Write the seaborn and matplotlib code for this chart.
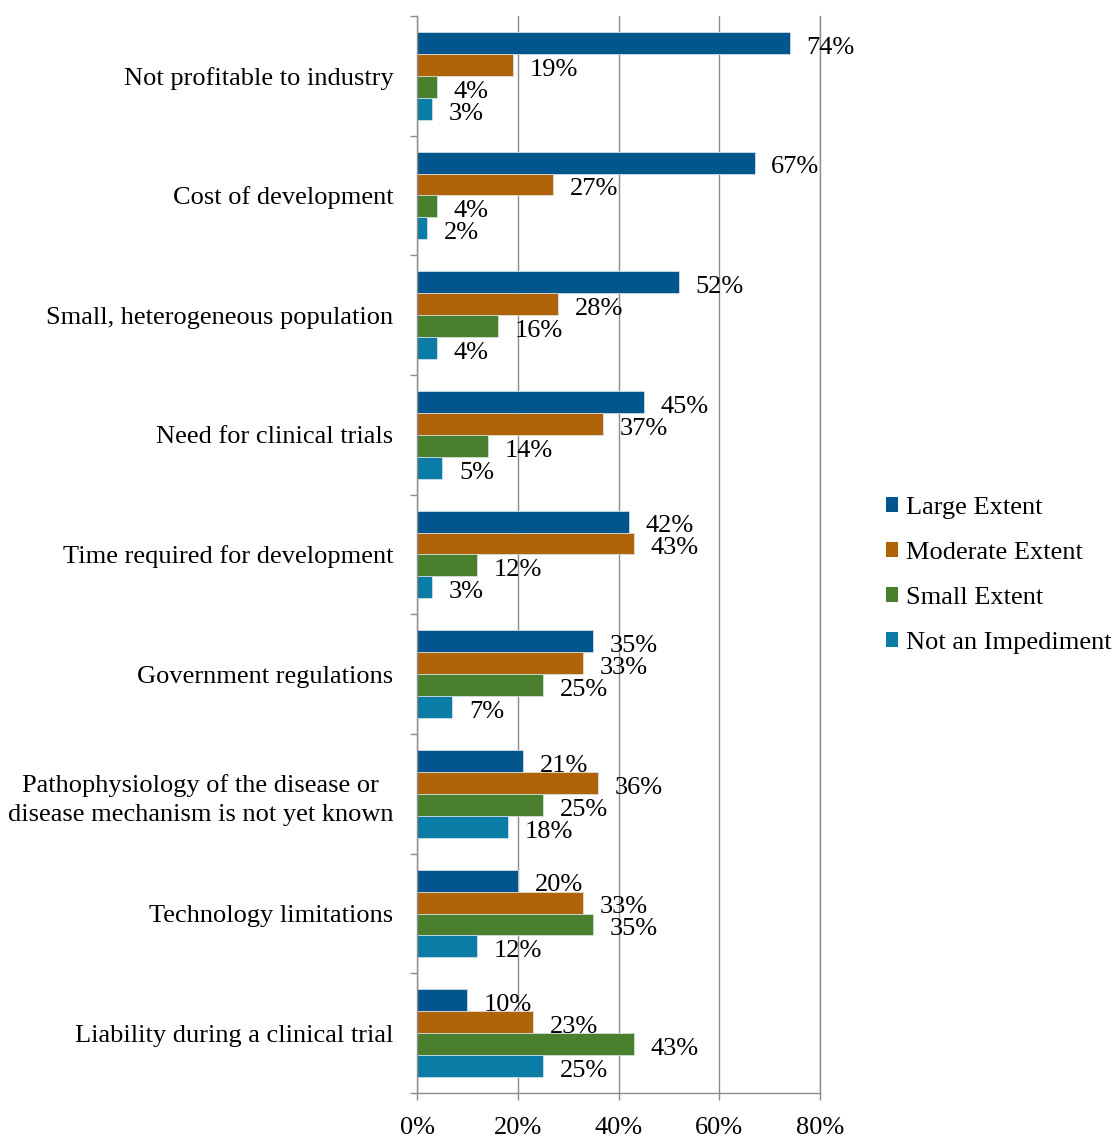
import matplotlib
matplotlib.use("Agg")
import matplotlib.pyplot as plt
from matplotlib.patches import Patch
from matplotlib.ticker import FuncFormatter, FixedLocator
import seaborn as sns
import pandas as pd

categories = [
    "Not profitable to industry",
    "Cost of development",
    "Small, heterogeneous population",
    "Need for clinical trials",
    "Time required for development",
    "Government regulations",
    "Pathophysiology of the disease or\ndisease mechanism is not yet known",
    "Technology limitations",
    "Liability during a clinical trial",
]
series = ["Large Extent", "Moderate Extent", "Small Extent", "Not an Impediment"]
large_extent = [74, 67, 52, 45, 42, 35, 21, 20, 10]
moderate_extent = [19, 27, 28, 37, 43, 33, 36, 33, 23]
small_extent = [4, 4, 16, 14, 12, 25, 25, 35, 43]
not_an_impediment = [3, 2, 4, 5, 3, 7, 18, 12, 25]
colors = ["#03558D", "#B0640A", "#4A7F2D", "#0A7CA5"]
x_ticks = [0, 20, 40, 60, 80]

values = [large_extent, moderate_extent, small_extent, not_an_impediment]
rows = []
for s, vals in zip(series, values):
    for c, v in zip(categories, vals):
        rows.append({"Impediment": c, "Extent": s, "Percent": v})
df = pd.DataFrame(rows)

sns.set_theme(style="white")
plt.rcParams["font.family"] = ["Liberation Serif", "DejaVu Serif"]
plt.rcParams["font.size"] = 19
plt.rcParams["text.color"] = "black"
plt.rcParams["xtick.color"] = "black"
plt.rcParams["ytick.color"] = "black"

grid_gray = "#8C8C8C"

fig = plt.figure(figsize=(11.16, 11.38), dpi=100)
ax = fig.add_axes([0.3737, 0.0395, 0.3611, 0.9465])

sns.barplot(
    data=df, y="Impediment", x="Percent", hue="Extent",
    order=categories, hue_order=series, palette=colors, saturation=1,
    orient="h", width=0.733, dodge=True, errorbar=None,
    edgecolor="#DDE6EE", linewidth=0.5, legend=False, ax=ax,
)

# value labels just right of each bar end
for cont, vals in zip(ax.containers, values):
    for bar, v in zip(cont.patches, vals):
        yc = bar.get_y() + bar.get_height() / 2
        ax.annotate(f"{v}%", xy=(bar.get_width(), yc), xytext=(12, -3.5),
                    textcoords="offset points", ha="left", va="center",
                    fontsize=19, color="black")

ax.set_xlim(0, 80)
ax.set_ylim(len(categories) - 0.5, -0.5)
ax.set_xticks(x_ticks)
ax.xaxis.set_major_formatter(FuncFormatter(lambda v, p: f"{int(v)}%"))
ax.set_xlabel("")
ax.set_ylabel("")

ax.grid(axis="x", color=grid_gray, linewidth=1.0)
ax.grid(axis="y", visible=False)
ax.set_axisbelow(True)

ax.spines["top"].set_visible(False)
for side in ["left", "bottom", "right"]:
    ax.spines[side].set_visible(True)
    ax.spines[side].set_color(grid_gray)
    ax.spines[side].set_linewidth(1.0)

ax.yaxis.set_minor_locator(FixedLocator([i - 0.5 for i in range(len(categories) + 1)]))
ax.tick_params(axis="y", which="major", length=0, pad=17, labelsize=19)
ax.tick_params(axis="y", which="minor", length=5, width=1.0, color=grid_gray,
               left=True, right=False)
ax.tick_params(axis="x", which="major", length=5, width=1.0, color=grid_gray,
               bottom=True, pad=12, labelsize=19)
for lab in ax.get_yticklabels():
    lab.set_multialignment("center")
    lab.set_linespacing(1.42)

handles = [Patch(facecolor=c, edgecolor="none") for c in colors]
fig.legend(handles, series, loc="center left", bbox_to_anchor=(0.794, 0.4944),
           frameon=False, fontsize=19, handlelength=0.45, handleheight=0.45,
           handletextpad=0.3, labelspacing=0.87, borderpad=0, borderaxespad=0)

fig.savefig("out.png", dpi=100)
